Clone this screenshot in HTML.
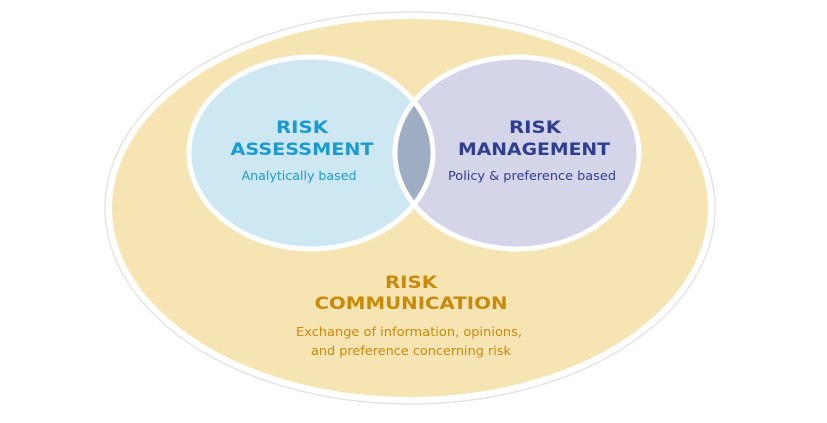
<!DOCTYPE html>
<html><head><meta charset="utf-8"><style>
html,body{margin:0;padding:0;background:#fff;width:827px;height:423px;overflow:hidden}
svg{display:block}
text{font-family:"DejaVu Sans","Liberation Sans",sans-serif;text-anchor:middle}
</style></head><body>
<svg width="827" height="423" viewBox="0 0 827 423">
<defs>
<clipPath id="cl"><ellipse cx="311" cy="153" rx="122" ry="96"/></clipPath>
</defs>
<ellipse cx="410" cy="208" rx="305" ry="196" fill="#fff" stroke="#e4e4e4" stroke-width="1.5"/>
<ellipse cx="410" cy="208" rx="298" ry="189" fill="#f6e4b3"/>
<ellipse cx="311" cy="153" rx="122" ry="96" fill="#cde8f3"/>
<ellipse cx="517" cy="153" rx="122" ry="96" fill="#d4d5e8"/>
<ellipse cx="517" cy="153" rx="122" ry="96" fill="#9fadc3" clip-path="url(#cl)"/>
<ellipse cx="311" cy="153" rx="122" ry="96" fill="none" stroke="#fff" stroke-width="5"/>
<ellipse cx="517" cy="153" rx="122" ry="96" fill="none" stroke="#fff" stroke-width="5"/>
<g font-weight="bold" font-size="17" fill="#1a9bd0">
<text x="302" y="133" textLength="52" lengthAdjust="spacingAndGlyphs">RISK</text>
<text x="302" y="155" textLength="143" lengthAdjust="spacingAndGlyphs">ASSESSMENT</text>
</g>
<text x="299" y="180" font-size="12.5" fill="#1a9bd0" textLength="115" lengthAdjust="spacingAndGlyphs">Analytically based</text>
<g font-weight="bold" font-size="17" fill="#2e3f8f">
<text x="535" y="133" textLength="52" lengthAdjust="spacingAndGlyphs">RISK</text>
<text x="534" y="155" textLength="152" lengthAdjust="spacingAndGlyphs">MANAGEMENT</text>
</g>
<text x="532" y="180" font-size="12.5" fill="#2e3f8f" textLength="168" lengthAdjust="spacingAndGlyphs">Policy &amp; preference based</text>
<g font-weight="bold" font-size="17" fill="#c98a0c">
<text x="411" y="288" textLength="52" lengthAdjust="spacingAndGlyphs">RISK</text>
<text x="411" y="309" textLength="193" lengthAdjust="spacingAndGlyphs">COMMUNICATION</text>
</g>
<text x="409" y="336" font-size="12.5" fill="#c98a0c" textLength="226" lengthAdjust="spacingAndGlyphs">Exchange of information, opinions,</text>
<text x="411" y="355" font-size="12.5" fill="#c98a0c" textLength="200" lengthAdjust="spacingAndGlyphs">and preference concerning risk</text>
</svg>
</body></html>
